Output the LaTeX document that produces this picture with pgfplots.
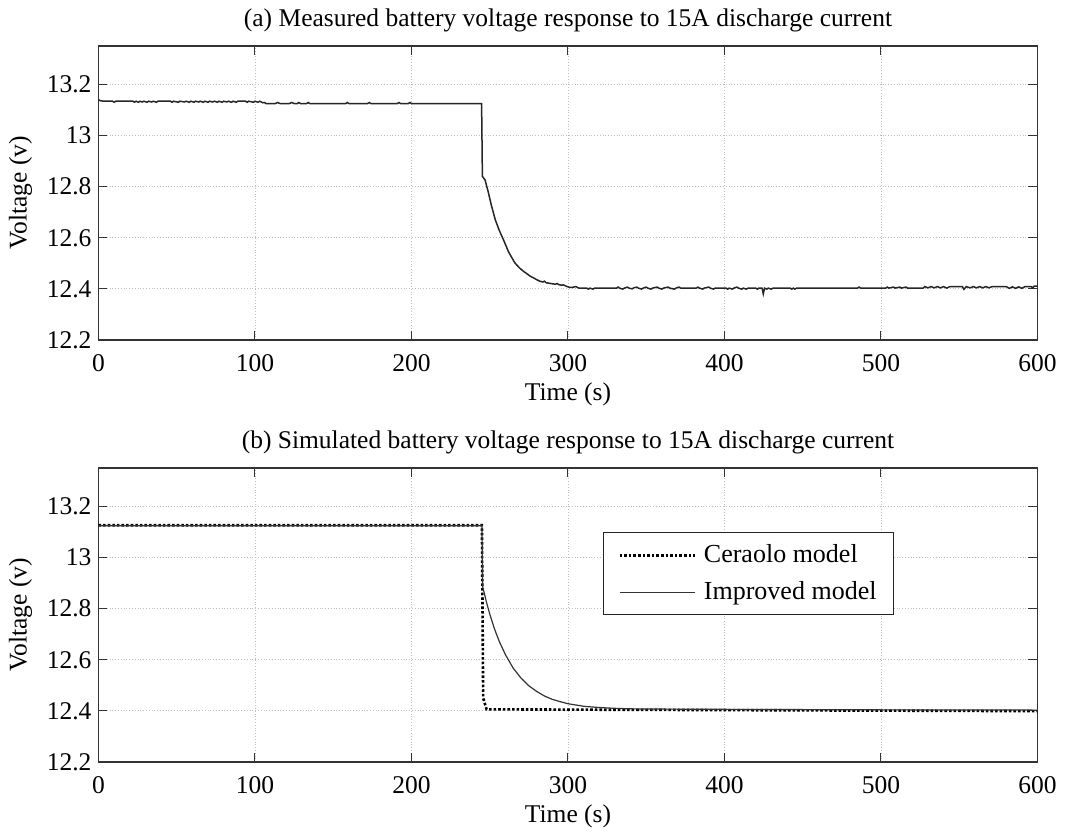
\documentclass[border=0pt]{standalone}
\usepackage{fontspec}
\setmainfont{Liberation Serif}
\usepackage{pgfplots}
\pgfplotsset{compat=1.18}
\pgfplotsset{
  mstyle/.style={
    scale only axis, width=469.5pt, height=147pt,
    xmin=0, xmax=600, ymin=12.2, ymax=13.35,
    xtick={0,100,200,300,400,500,600},
    ytick={12.2,12.4,12.6,12.8,13,13.2},
    yticklabels={12.2,12.4,12.6,12.8,13,13.2},
    /pgf/number format/assume math mode=true,
    grid=major,
    major grid style={densely dotted, gray!50, line width=0.4pt},
    tick align=inside, tick pos=both,
    major tick length=4.5pt,
    tick style={black!80, line width=0.5pt},
    axis line style={black!80, line width=0.7pt},
    ticklabel style={font=\fontsize{12.75}{14}\selectfont},
    xticklabel style={yshift=-3.5pt},
    label style={font=\fontsize{12.75}{14}\selectfont},
    title style={font=\fontsize{12.75}{14}\selectfont, at={(axis description cs:0.5,1)}, anchor=base, yshift=4pt},
    xlabel={Time (s)},
    ylabel={Voltage (v)},
    x label style={at={([yshift=-27pt]axis description cs:0.5,0)}, anchor=center},
    y label style={at={([xshift=-39pt]axis description cs:0,0.5)}, anchor=center},
  }
}
\begin{document}
\begin{tikzpicture}
\useasboundingbox (-49.25pt,-35pt) rectangle (483.75pt,381pt);
\begin{axis}[mstyle, at={(0pt,211pt)}, anchor=south west,
  title={(a) Measured battery voltage response to 15A discharge current}]
\addplot[black!85, line width=0.75pt] coordinates {
(0,13.140)(1.5,13.135)(9,13.134)(10,13.130)(11,13.134)(22,13.134)(23,13.130)(24,13.134)
(25.5,13.130)(26.5,13.134)(28,13.131)(29,13.134)(31,13.130)(32,13.134)(34,13.131)(35,13.134)
(37,13.130)(38,13.134)(46,13.134)(47,13.130)(48,13.134)(51,13.130)(52,13.134)(55,13.131)
(56,13.134)(58,13.130)(59,13.134)(61,13.130)(62,13.134)(64,13.131)(65,13.134)(67,13.130)
(68,13.134)(70,13.130)(71,13.134)(73,13.131)(74,13.134)(76,13.130)(77,13.134)(79,13.130)
(80,13.134)(82,13.131)(83,13.134)(85,13.130)(86,13.134)(88,13.130)(89,13.134)(94,13.134)
(95,13.130)(96,13.134)(99,13.130)(100,13.134)(102,13.130)(103,13.134)(105,13.128)(106,13.129)
(107,13.125)(113,13.125)(114.5,13.129)(116,13.125)(122,13.125)(123.5,13.129)(125,13.125)
(127,13.125)(128,13.129)(129,13.125)(133,13.125)(134,13.129)(135,13.125)(158,13.125)
(159,13.129)(160,13.125)(172,13.125)(173,13.129)(174,13.125)(191,13.125)(192,13.129)
(193,13.125)(198,13.125)(199,13.129)(200,13.125)(244.8,13.125)
(245.3,12.840)(247,12.826)(249,12.780)(251,12.728)(253.5,12.671)(256,12.630)(258.7,12.593)
(262,12.545)(266,12.502)(269,12.482)(271.5,12.469)(274,12.458)(276,12.449)(278,12.443)
(280,12.436)(282,12.430)(284,12.427)(285,12.430)(286,12.424)(290,12.420)(292,12.418)
(293,12.421)(294,12.417)(296,12.414)(297,12.416)(299,12.410)(301,12.406)(303,12.406)
(305,12.409)(307,12.403)
(312,12.403)(313,12.399)(314,12.403)(316,12.399)(317,12.403)(322,12.403)
(331,12.403)(332,12.407)(333,12.403)(335,12.399)(336,12.403)(338,12.407)(339,12.403)
(341,12.400)(342,12.404)(344,12.407)(345,12.403)(347,12.399)(348,12.403)(350,12.407)
(351,12.403)(353,12.399)(354,12.403)(357,12.407)(358,12.403)(360,12.399)(361,12.403)
(364,12.407)(365,12.403)(368,12.399)(369,12.403)(371,12.407)(372,12.403)
(382,12.403)(383,12.407)(384,12.403)(386,12.399)(387,12.403)(390,12.407)(391,12.403)
(393,12.399)(394,12.403)
(401,12.403)(402,12.399)(403,12.403)(405,12.399)(406,12.403)(408,12.407)(409,12.403)
(411,12.399)(412,12.403)(414,12.399)(415,12.403)
(420,12.403)(421,12.399)(422,12.403)(424,12.403)(424.8,12.380)(425.6,12.403)(427,12.399)
(428,12.403)(430,12.399)(431,12.403)
(442,12.403)(443,12.399)(444,12.403)(445,12.399)(446,12.403)
(485,12.403)(486,12.407)(487,12.403)
(503,12.403)(504,12.407)(505,12.403)(508,12.407)(509,12.403)(512,12.407)(513,12.403)
(516,12.407)(517,12.403)
(527,12.403)(528,12.409)(530,12.404)(532,12.409)(534,12.404)(536,12.409)(538,12.404)
(540,12.409)(542,12.403)(544,12.409)(552,12.409)(553,12.398)(554.5,12.409)(557,12.404)
(559,12.409)(561,12.404)(563,12.409)(565,12.404)(567,12.409)(569,12.404)(571,12.409)
(580,12.409)(582,12.402)(584,12.408)(586,12.402)(588,12.408)(590,12.402)(592,12.409)
(596,12.409)(597,12.404)(598,12.411)(600,12.411)
};
\end{axis}
\begin{axis}[mstyle, at={(0pt,0pt)}, anchor=south west,
  title={(b) Simulated battery voltage response to 15A discharge current},
  legend cell align=left,
  legend style={at={(axis description cs:0.537,0.782)}, anchor=north west,
    draw=black!85, line width=0.6pt, fill=white,
    font=\fontsize{13}{15}\selectfont,
    inner xsep=6.5pt, inner ysep=4pt, row sep=4pt},
  legend image code/.code={\path (-1pt,0pt) (39.5pt,0pt); \draw[#1] (0pt,0pt) -- (37.5pt,0pt);}]
\addplot[black, densely dotted, line width=1.3pt] coordinates {
(0,13.126)(245,13.126)(245.8,12.45)(248,12.406)(300,12.405)(400,12.403)(500,12.401)(600,12.399)
};
\addlegendentry{Ceraolo model}
\addplot[black!80, line width=0.6pt] coordinates {
(0,13.124)(245,13.124)(245.5,12.885)(248,12.823)(250,12.779)(253,12.721)(256,12.673)
(260,12.620)(265,12.567)(270,12.528)(275,12.498)(280,12.476)(285,12.458)(290,12.445)
(295,12.436)(300,12.428)(310,12.418)(320,12.413)(330,12.410)(340,12.408)(360,12.407)
(400,12.406)(500,12.404)(600,12.403)
};
\addlegendentry{Improved model}
\end{axis}
\end{tikzpicture}
\end{document}
